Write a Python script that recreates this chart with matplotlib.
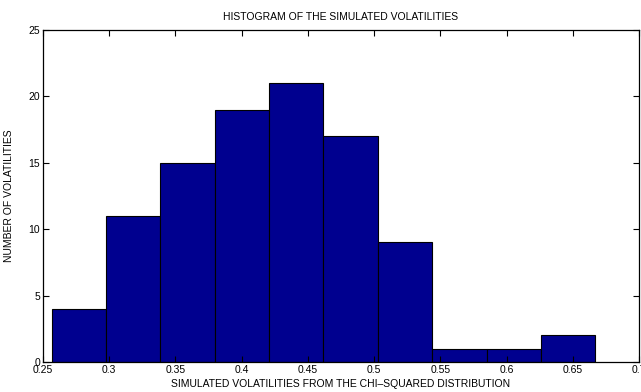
import numpy as np
import matplotlib
matplotlib.use("Agg")
import matplotlib.pyplot as plt

# histogram counts and bin edges
counts = [4, 11, 15, 19, 21, 17, 9, 1, 1, 2]
edge_lo = 0.2565
edge_hi = 0.6670
edges = np.linspace(edge_lo, edge_hi, len(counts) + 1)

xticks = [0.25, 0.3, 0.35, 0.4, 0.45, 0.5, 0.55, 0.6, 0.65, 0.7]
xticklabels = ["0.25", "0.3", "0.35", "0.4", "0.45", "0.5", "0.55", "0.6", "0.65", "0.7"]
yticks = [0, 5, 10, 15, 20, 25]

plt.rcParams["font.family"] = ["Liberation Sans", "DejaVu Sans"]

W, H = 641, 392
fig = plt.figure(figsize=(W / 100, H / 100), dpi=100)
# axes box in pixels: left 43, right 639, top 30, bottom 362
ax = fig.add_axes([43 / W, 1 - 362 / H, 596 / W, 332 / H])

ax.bar(edges[:-1], counts, width=np.diff(edges), align="edge",
       color="#00008F", edgecolor="black", linewidth=0.8)

ax.set_xlim(0.25, 0.7)
ax.set_ylim(0, 25)
ax.set_xticks(xticks)
ax.set_xticklabels(xticklabels)
ax.set_yticks(yticks)
ax.tick_params(direction="in", top=True, right=True, labelsize=7.5,
               length=4, width=0.8, pad=2)
for s in ax.spines.values():
    s.set_linewidth(0.9)

ax.set_title("HISTOGRAM OF THE SIMULATED VOLATILITIES", fontsize=7.5, pad=7)
ax.set_xlabel("SIMULATED VOLATILITIES FROM THE CHI\u2013SQUARED DISTRIBUTION", fontsize=7.5)
ax.set_ylabel("NUMBER OF VOLATILITIES", fontsize=7.5)
ax.xaxis.set_label_coords(0.5, -0.05)
ax.yaxis.set_label_coords(-0.049, 0.5)

fig.savefig("out.png", dpi=100)
